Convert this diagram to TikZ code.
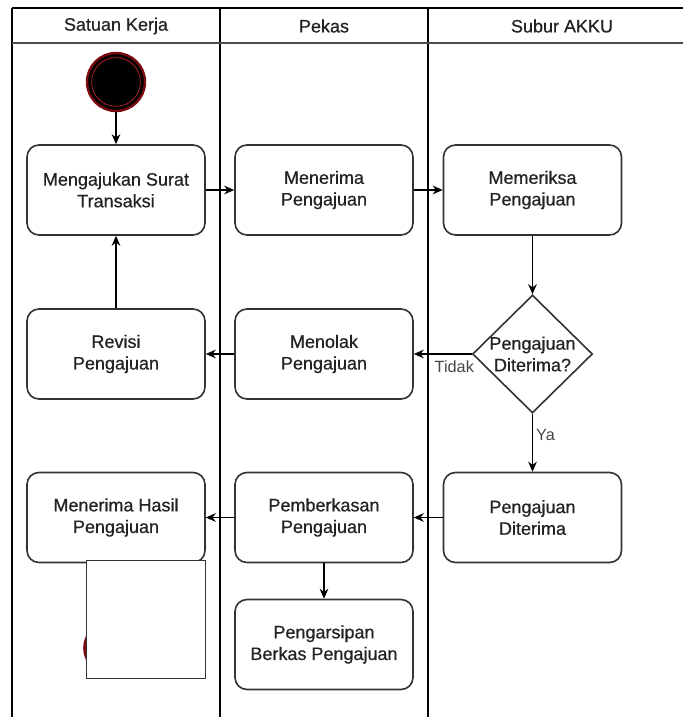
\documentclass[tikz,border=0pt]{standalone}
\usepackage{fontspec}
\setmainfont{Liberation Sans}
\newfontfamily\heavysans[FakeBold=0.6]{Liberation Sans}
\usetikzlibrary{arrows.meta,shapes.geometric}

\definecolor{ink}{RGB}{35,35,35}
\definecolor{edgegray}{RGB}{51,51,51}
\definecolor{startring}{RGB}{120,10,15}
\definecolor{startinner}{RGB}{190,40,40}
\definecolor{labelgray}{RGB}{70,70,70}

\tikzset{
  lane/.style={draw=black, line width=1.1pt},
  headsep/.style={draw=black!70, line width=1.6pt},
  headtext/.style={font=\heavysans\fontsize{13.5pt}{16.2pt}\selectfont, text=ink},
  actbox/.style={draw=edgegray, line width=1.2pt, fill=white, rounded corners=9pt,
    minimum width=133.5pt, minimum height=67.5pt, inner sep=0pt, align=center,
    text=ink, font=\heavysans\fontsize{13.5pt}{16.2pt}\selectfont},
  decbox/.style={diamond, draw=edgegray, line width=1.2pt, fill=white, inner sep=0pt,
    minimum width=90pt, minimum height=88.5pt},
  dectext/.style={align=center, text=ink, inner sep=0pt,
    font=\heavysans\fontsize{13.5pt}{16.2pt}\selectfont},
  flow/.style={draw=black, line width=1pt, -{Stealth[length=7.5pt,width=6.5pt]}},
  edgelabel/.style={text=labelgray, inner sep=0pt, font=\fontsize{12.2pt}{14.6pt}\selectfont},
  coverbox/.style={draw=edgegray, line width=1.1pt, fill=white}
}

\begin{document}
\begin{tikzpicture}[x=0.75pt, y=-0.75pt]
  \useasboundingbox (0,0) rectangle (683,717);
  \fill[white] (0,0) rectangle (683,717);

  % swimlane frame
  \draw[lane] (12,8) -- (683,8);
  \draw[lane] (12,8) -- (12,717);
  \draw[lane] (220,8) -- (220,717);
  \draw[lane] (428,8) -- (428,717);
  \draw[headsep] (12,43) -- (683,43);

  \node[headtext] (h1) at (116,26) {Satuan Kerja};
  \node[headtext] (h2) at (324,26) {Pekas};
  \node[headtext] (h3) at (562,26) {Subur AKKU};

  % start state
  \node[circle, fill=black, draw=startring, line width=1.8pt, minimum size=43.5pt, inner sep=0pt] (start) at (116,82) {};
  \draw[startinner, line width=0.5pt] (start.center) circle (18.3pt);

  % activities
  \node[actbox] (ajukan) at (116,190) {Mengajukan Surat\\Transaksi};
  \node[actbox] (terima) at (324,190) {Menerima\\Pengajuan};
  \node[actbox] (periksa) at (532.5,190) {Memeriksa\\Pengajuan};

  \node[actbox] (revisi) at (116,354) {Revisi\\Pengajuan};
  \node[actbox] (tolak) at (324,354) {Menolak\\Pengajuan};
  \node[decbox] (cek) at (532.5,354) {};
  \node[dectext] (cektext) at (cek.center) {Pengajuan\\Diterima?};

  \node[actbox] (hasil) at (116,517.5) {Menerima Hasil\\Pengajuan};
  \node[actbox] (berkas) at (324,517.5) {Pemberkasan\\Pengajuan};
  \node[actbox] (diterima) at (532.5,517.5) {Pengajuan\\Diterima};

  \node[actbox] (arsip) at (324,644.5) {Pengarsipan\\Berkas Pengajuan};

  % end state, mostly covered by the blank box
  \node[circle, fill=white, draw=startring, line width=2pt, minimum size=39pt, inner sep=0pt] (finish) at (110.5,648) {};
  \fill[black] (finish.center) circle (12pt);

  % flows
  \draw[flow] (start) -- (ajukan);
  \draw[flow] (ajukan) -- (terima);
  \draw[flow] (terima) -- (periksa);
  \draw[flow] (periksa) -- (cek);
  \draw[flow] (cek.west) -- node[edgelabel, pos=0.3, yshift=-9.75pt] {Tidak} (tolak.east);
  \draw[flow] (tolak) -- (revisi);
  \draw[flow] (revisi) -- (ajukan);
  \draw[flow] (cek.south) -- node[edgelabel, pos=0.37, xshift=9.75pt] {Ya} (diterima.north);
  \draw[flow] (diterima) -- (berkas);
  \draw[flow] (berkas) -- (hasil);
  \draw[flow] (berkas) -- (arsip);

  % blank box on top
  \node[coverbox, minimum width=89pt, minimum height=88.5pt, inner sep=0pt, anchor=north west] (blank) at (86,560) {};
\end{tikzpicture}
\end{document}
